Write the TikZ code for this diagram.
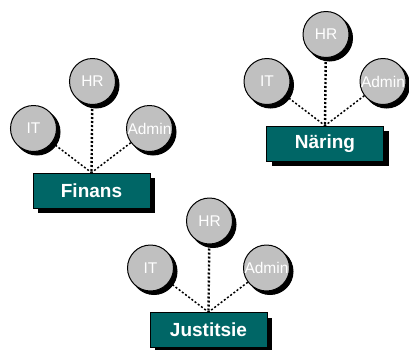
\documentclass[tikz,border=0pt]{standalone}
\usepackage{fontspec}
\setmainfont{Liberation Sans}
\usetikzlibrary{backgrounds}
\definecolor{deptgreen}{HTML}{006666}
\definecolor{unitgrey}{HTML}{C0C0C0}

\begin{document}
\begin{tikzpicture}[x=1pt,y=-1pt]
    \tikzstyle{unit}=[circle,draw=black,line width=1pt,fill=unitgrey,minimum size=46pt,inner sep=0pt,text=white,font=\fontsize{15.5}{15.5}\selectfont,preaction={fill=black,draw=black,transform canvas={xshift=3.5pt,yshift=-3.5pt}}]
    \tikzstyle{dept}=[rectangle,draw=black,line width=0.8pt,fill=deptgreen,minimum width=117pt,minimum height=35pt,inner sep=0pt,text=white,font=\bfseries\fontsize{19}{19}\selectfont,preaction={fill=black,transform canvas={xshift=5pt,yshift=-5pt}}]
    \tikzstyle{link}=[line width=1.5pt,dash pattern=on 2pt off 2pt]
    \useasboundingbox (0,0) rectangle (409,349);
    \foreach \n/\name/\x/\y in {fin/Finans/91.5/190.5, nae/Näring/325/143.5, jus/Justitsie/208.5/330} {
      \node[dept] (\n) at (\x,\y) {\name};
      \node[unit] (\n-hr) at (\x+1,\y-109) {HR};
      \node[unit] (\n-it) at (\x-58,\y-62) {IT};
      \node[unit] (\n-admin) at (\x+58,\y-62) {Admin};
      \begin{scope}[on background layer]
        \draw[link,line width=2.4pt] (\n-hr) -- (\n.north);
        \draw[link] (\n-it) -- (\n.north);
        \draw[link] (\n-admin) -- (\n.north);
      \end{scope}
    }
  \end{tikzpicture}
\end{document}
